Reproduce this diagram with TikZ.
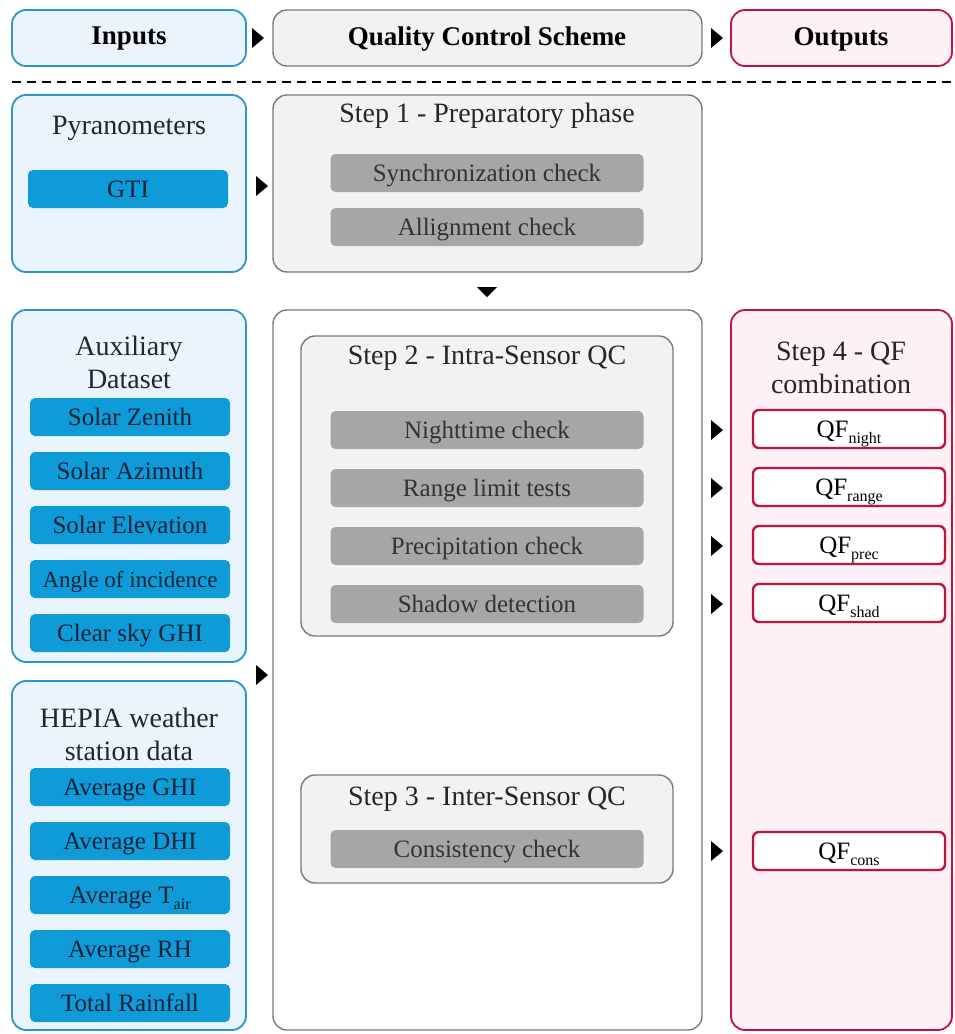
\documentclass[tikz,border=0pt]{standalone}
\usepackage{fontspec}
\setmainfont{Liberation Serif}
\usetikzlibrary{positioning}
\definecolor{inblue}{HTML}{2E95CC}
\definecolor{inlight}{HTML}{EAF4FC}
\definecolor{barblue}{HTML}{0F9AD8}
\definecolor{bartext}{HTML}{0B2238}
\definecolor{qcgray}{HTML}{7A7A7A}
\definecolor{qclight}{HTML}{F2F2F2}
\definecolor{bargray}{HTML}{A6A6A6}
\definecolor{outred}{HTML}{C0143C}
\definecolor{outlight}{HTML}{FDF0F6}
\newcommand{\lowsub}[1]{\raisebox{-6pt}{\fontsize{16}{16}\selectfont #1}}

\begin{document}
\begin{tikzpicture}[x=1pt, y=-1pt,
  inbox/.style={draw=inblue, fill=inlight, line width=1.8pt, rounded corners=14pt},
  qcbox/.style={draw=qcgray, fill=qclight, line width=1.4pt, rounded corners=14pt},
  outbox/.style={draw=outred, fill=outlight, line width=1.8pt, rounded corners=14pt},
  head/.style={font=\fontsize{27}{30}\selectfont\bfseries, text=black},
  title/.style={font=\fontsize{28}{33}\selectfont, text=black!85, align=center},
  bluebar/.style={fill=barblue, rounded corners=5pt, minimum width=200pt, minimum height=38pt,
    inner sep=0pt, text height=17.5pt, text depth=1pt, text=bartext, font=\fontsize{25}{27}\selectfont},
  graybar/.style={fill=bargray, rounded corners=5pt, minimum width=313pt, minimum height=38pt,
    inner sep=0pt, text height=17.5pt, text depth=1pt, text=black!80, font=\fontsize{25}{27}\selectfont},
  qfbox/.style={draw=outred, fill=white, line width=2.4pt, rounded corners=6pt, minimum width=192pt,
    minimum height=38pt, inner sep=0pt, text height=17.5pt, text depth=1pt, font=\fontsize{25}{27}\selectfont}]
  \useasboundingbox (0,0) rectangle (955,1034);

  % header row
  \draw[inbox] (12,10) rectangle (246,66);
  \node[head] (inputs) at (129,39) {Inputs};
  \draw[qcbox] (273,10) rectangle (702,66);
  \node[head] (scheme) at (487,39) {Quality Control Scheme};
  \draw[outbox] (731,10) rectangle (952,66);
  \node[head] (outputs) at (841,39) {Outputs};
  \fill (252,28) -- (264,38) -- (252,48) -- cycle;
  \fill (711,28) -- (723,38) -- (711,48) -- cycle;
  \draw[dash pattern=on 9pt off 6pt, line width=1.4pt] (12,82) -- (952,82);

  % inputs
  \draw[inbox] (12,95) rectangle (246,272);
  \node[title] (pyr) at (129,128) {Pyranometers};
  \node[bluebar] (gti) at (128,189) {GTI};

  \draw[inbox] (12,310) rectangle (246,662);
  \node[title] (aux) at (129,362) {Auxiliary\\Dataset};
  \foreach \n/\t [count=\i from 0] in {zen/Solar Zenith, azi/Solar Azimuth, ele/Solar Elevation,
      aoi/{\fontsize{23}{25}\selectfont Angle of incidence}, csk/Clear sky GHI}
    \node[bluebar] (\n) at (130,417+54*\i) {\t};

  \draw[inbox] (12,681) rectangle (246,1030);
  \node[title] (hepia) at (129,734) {HEPIA weather\\station data};
  \foreach \n/\t [count=\i from 0] in {ghi/Average GHI, dhi/Average DHI, tair/Average T\lowsub{air},
      rh/Average RH, rain/Total Rainfall}
    \node[bluebar] (\n) at (130,787+54*\i) {\t};

  \fill (256,176) -- (268,186) -- (256,196) -- cycle;
  \fill (256,665) -- (268,675) -- (256,685) -- cycle;

  % quality control scheme
  \draw[qcbox] (273,95) rectangle (702,272);
  \node[title] (step1) at (487,116) {Step 1 - Preparatory phase};
  \node[graybar] (sync) at (487,173) {Synchronization check};
  \node[graybar] (align) at (487,227) {Allignment check};
  \fill (477,287) -- (497,287) -- (487,297) -- cycle;

  \draw[qcgray, fill=white, line width=1.4pt, rounded corners=14pt] (273,310) rectangle (702,1030);
  \draw[qcbox] (301,336) rectangle (673,636);
  \node[title] (step2) at (487,358) {Step 2 - Intra-Sensor QC};
  \foreach \n/\t [count=\i from 0] in {night/Nighttime check, range/Range limit tests,
      prec/Precipitation check, shad/Shadow detection}
    \node[graybar] (\n) at (487,430+58*\i) {\t};

  \draw[qcbox] (301,775) rectangle (673,883);
  \node[title] (step3) at (487,799) {Step 3 - Inter-Sensor QC};
  \node[graybar] (cons) at (487,849) {Consistency check};

  \foreach \y in {430,488,546,604,851}
    \fill (711,\y-10) -- (723,\y) -- (711,\y+10) -- cycle;

  % outputs
  \draw[outbox] (731,310) rectangle (952,1030);
  \node[title] (step4) at (841,368) {Step 4 - QF\\combination};
  \node[qfbox] (qfnight) at (849,429) {QF\lowsub{night}};
  \node[qfbox] (qfrange) at (849,487) {QF\lowsub{range}};
  \node[qfbox] (qfprec) at (849,545) {QF\lowsub{prec}};
  \node[qfbox] (qfshad) at (849,603) {QF\lowsub{shad}};
  \node[qfbox] (qfcons) at (849,851) {QF\lowsub{cons}};
\end{tikzpicture}
\end{document}
